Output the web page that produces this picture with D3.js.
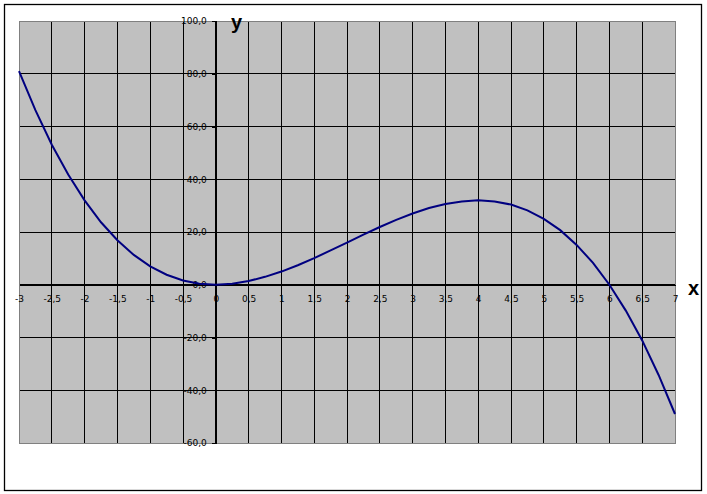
<!DOCTYPE html>
<html><head><meta charset="utf-8">
<script src="https://cdn.jsdelivr.net/npm/d3@7"></script>
<style>body{margin:0;background:#fff}svg{display:block}</style>
</head><body>
<svg id="c" width="707" height="494"></svg>
<script>
const xValues = [-3,-2.75,-2.5,-2.25,-2,-1.75,-1.5,-1.25,-1,-0.75,-0.5,-0.25,0,0.25,0.5,0.75,1,1.25,1.5,1.75,2,2.25,2.5,2.75,3,3.25,3.5,3.75,4,4.25,4.5,4.75,5,5.25,5.5,5.75,6,6.25,6.5,6.75,7];
const yValues = [81,66.2,53.1,41.8,32,23.7,16.9,11.3,7,3.8,1.6,0.4,0,0.4,1.4,3,5,7.4,10.1,13,16,19,21.9,24.6,27,29.1,30.6,31.6,32,31.6,30.4,28.2,25,20.7,15.1,8.3,0,-9.8,-21.1,-34.2,-49];
const xTicks = [-3,-2.5,-2,-1.5,-1,-0.5,0,0.5,1,1.5,2,2.5,3,3.5,4,4.5,5,5.5,6,6.5,7];
const yTicks = [-60,-40,-20,0,20,40,60,80,100];
const xTickLabels = ["-3","-2,5","-2","-1,5","-1","-0,5","0","0,5","1","1,5","2","2,5","3","3,5","4","4,5","5","5,5","6","6,5","7"];
const yTickLabels = ["-60,0","-40,0","-20,0","0,0","20,0","40,0","60,0","80,0","100,0"];

const svg = d3.select("#c");
const L = 19, R = 675, T = 21, B = 443;
const x = d3.scaleLinear().domain([-3,7]).range([L,R]);
const y = d3.scaleLinear().domain([-60,100]).range([B,T]);

// outer border
svg.append("rect").attr("x",4.5).attr("y",4.5).attr("width",697).attr("height",486)
  .attr("fill","#fff").attr("stroke","#000").attr("stroke-width",1.3);

// plot area
svg.append("rect").attr("x",L).attr("y",T).attr("width",R-L).attr("height",B-T).attr("fill","#C0C0C0");

// gridlines
const g = svg.append("g").attr("stroke","#000").attr("stroke-width",1).attr("shape-rendering","crispEdges");
xTicks.forEach(v=>{ g.append("line").attr("x1",x(v)).attr("x2",x(v)).attr("y1",T).attr("y2",B); });
yTicks.forEach(v=>{ g.append("line").attr("x1",L).attr("x2",R).attr("y1",y(v)).attr("y2",y(v)); });

// plot border
svg.append("rect").attr("x",L).attr("y",T).attr("width",R-L).attr("height",B-T)
  .attr("fill","none").attr("stroke","#808080").attr("stroke-width",1).attr("shape-rendering","crispEdges");

// y axis at x=0
const yAxis = d3.axisLeft(y).tickValues(yTicks).tickSize(4).tickPadding(5)
  .tickFormat((d,i)=>yTickLabels[i]);
const ya = svg.append("g").attr("transform",`translate(${x(0)},0)`).call(yAxis);
ya.select(".domain").attr("stroke","#000").attr("shape-rendering","crispEdges");
ya.selectAll(".tick line").attr("stroke","#000").attr("shape-rendering","crispEdges");
ya.selectAll("text").attr("font-family","DejaVu Sans").attr("font-size","9px").attr("fill","#000");

// x axis at y=0
const xAxis = d3.axisBottom(x).tickValues(xTicks).tickSize(0).tickPadding(11)
  .tickFormat((d,i)=>xTickLabels[i]);
const xa = svg.append("g").attr("transform",`translate(0,${y(0)})`).call(xAxis);
xa.select(".domain").attr("stroke","#000").attr("shape-rendering","crispEdges");
xa.selectAll("text").attr("font-family","DejaVu Sans").attr("font-size","9px").attr("fill","#000");

// curve
const data = xValues.map((v,i)=>[v,yValues[i]]);
svg.append("path").datum(data)
  .attr("d", d3.line().x(d=>x(d[0])).y(d=>y(d[1])))
  .attr("fill","none").attr("stroke","#000080").attr("stroke-width",2);

// axis titles
svg.append("text").attr("x",231).attr("y",29).text("y")
  .attr("font-family","Liberation Sans").attr("font-weight","bold").attr("font-size","20px");
svg.append("text").attr("x",688).attr("y",295).text("x")
  .attr("font-family","Liberation Sans").attr("font-weight","bold").attr("font-size","20px");
</script>
</body></html>
